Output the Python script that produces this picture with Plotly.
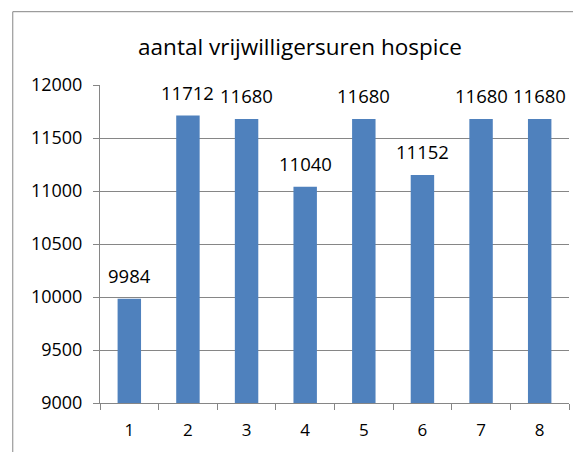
import plotly.graph_objects as go

categories = ["1", "2", "3", "4", "5", "6", "7", "8"]
values = [9984, 11712, 11680, 11040, 11680, 11152, 11680, 11680]
y_ticks = [9000, 9500, 10000, 10500, 11000, 11500, 12000]
title = "aantal vrijwilligersuren hospice"

FONT = "Open Sans"
GRAY = "#868686"

fig = go.Figure(
    go.Bar(
        x=categories,
        y=values,
        marker=dict(color="#4F81BD", line=dict(width=0)),
        hoverinfo="x+y",
    )
)

# data labels above each bar (x given as category index)
for i, v in enumerate(values):
    fig.add_annotation(
        x=i, y=v, xref="x", yref="y",
        text=str(v),
        showarrow=False,
        yanchor="bottom",
        yshift=9,
        font=dict(family=FONT, size=18.5, color="#000000"),
    )

fig.update_layout(
    width=573,
    height=452,
    margin=dict(l=100, r=4, t=85, b=49),
    paper_bgcolor="white",
    plot_bgcolor="white",
    showlegend=False,
    bargap=0.6,
    title=dict(
        text=title,
        font=dict(family=FONT, size=22.5, color="#000000"),
        x=300 / 573,
        xanchor="center",
        y=1 - 47 / 452,
        yanchor="middle",
    ),
    shapes=[
        dict(
            type="rect",
            xref="paper",
            yref="paper",
            x0=-0.186,
            x1=1.3,
            y0=-0.5,
            y1=1.2305,
            line=dict(color=GRAY, width=1),
            fillcolor="rgba(0,0,0,0)",
            layer="above",
        )
    ],
)

fig.update_yaxes(
    range=[9000, 12000],
    tickvals=y_ticks,
    ticktext=[str(v) for v in y_ticks],
    showgrid=True,
    gridcolor=GRAY,
    gridwidth=1,
    showline=True,
    linecolor=GRAY,
    linewidth=1,
    ticks="outside",
    ticklen=6,
    tickcolor=GRAY,
    ticklabelstandoff=7,
    tickfont=dict(family=FONT, size=18, color="#000000"),
    zeroline=False,
)

fig.update_xaxes(
    type="category",
    categoryorder="array",
    categoryarray=categories,
    range=[-0.5, len(categories) - 0.5],
    showline=True,
    linecolor=GRAY,
    linewidth=1,
    ticks="outside",
    tickson="boundaries",
    ticklen=6,
    tickcolor=GRAY,
    ticklabelstandoff=12,
    tickfont=dict(family=FONT, size=17, color="#000000"),
    showgrid=False,
)

fig.write_html(
    "out.html",
    config={"displayModeBar": False},
    post_script="document.body.style.margin='0';",
)
